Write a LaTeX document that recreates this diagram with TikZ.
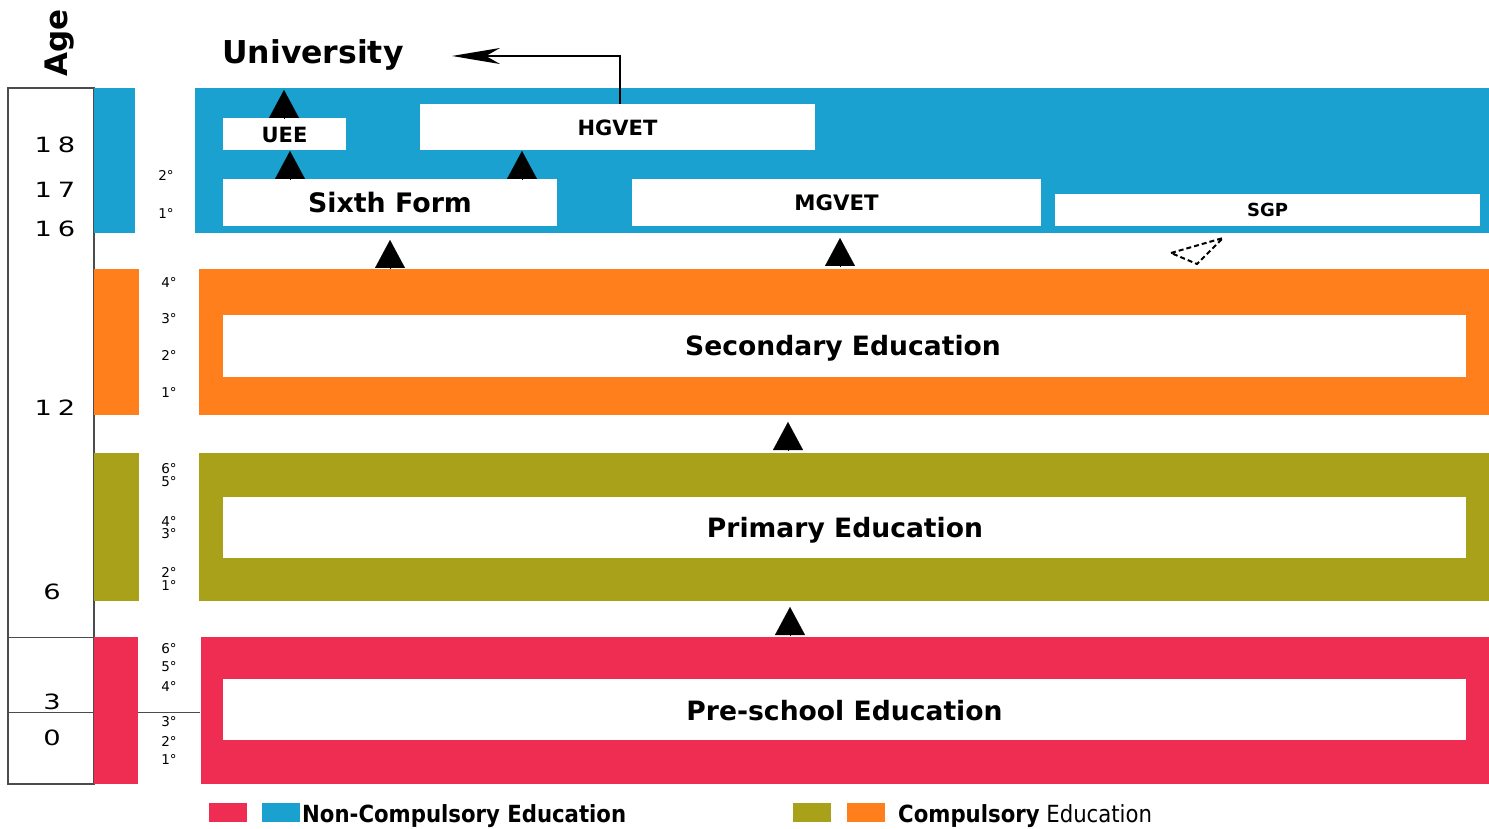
\documentclass[tikz,border=0pt]{standalone}
\usepackage{fontspec}
\setmainfont{DejaVu Sans}
\newfontfamily\condfont{DejaVu Sans Condensed}
\newfontfamily\agefont[LetterSpace=22]{DejaVu Sans}
\usetikzlibrary{arrows.meta,positioning}
\definecolor{cblue}{RGB}{27,161,208}
\definecolor{corange}{RGB}{255,127,29}
\definecolor{colive}{RGB}{169,161,26}
\definecolor{cred}{RGB}{239,45,83}
\newcommand{\agetxt}[1]{\scalebox{1.3}[1]{\agefont\fontsize{21}{21}\selectfont #1}}
\begin{document}
\begin{tikzpicture}[x=1pt,y=-1pt,
  wbox/.style={fill=white,inner sep=0pt,font=\bfseries},
  tri/.style={-{Triangle[length=28pt,width=30pt]},line width=0.1pt},
  grade/.style={font=\fontsize{13.5}{13.5}\selectfont,inner sep=0pt},
  agenum/.style={inner sep=0pt},
  leg/.style={minimum width=38pt,minimum height=19pt,inner sep=0pt}]
\useasboundingbox (0,0) rectangle (1489,829);
% age column
\draw[gray!60!black,line width=1.2pt] (8,88) rectangle (94,784);
\draw[gray!60!black,line width=1pt] (8,637) -- (94,637);
\draw[gray!60!black,line width=1pt] (8,712) -- (200,712);
\node[rotate=90,font=\bfseries\fontsize{31}{31}\selectfont,inner sep=0pt] (age) at (60,43) {Age};
\node[agenum] (a18) at (55,145) {\agetxt{18}};
\node[agenum] (a17) at (55,190) {\agetxt{17}};
\node[agenum] (a16) at (55,229) {\agetxt{16}};
\node[agenum] (a12) at (55,408) {\agetxt{12}};
\node[agenum] (a6) at (52,592) {\agetxt{6}};
\node[agenum] (a3) at (52,702) {\agetxt{3}};
\node[agenum] (a0) at (52,738) {\agetxt{0}};
% side strips
\fill[cblue] (94,88) rectangle (135,233);
\fill[corange] (94,269) rectangle (139,415);
\fill[colive] (94,453) rectangle (139,601);
\fill[cred] (94,637) rectangle (138,784);
% grades
\node[grade] (g1) at (166,175) {2°};
\node[grade] (g2) at (166,213) {1°};
\node[grade] (g3) at (169,282) {4°};
\node[grade] (g4) at (169,319) {3°};
\node[grade] (g5) at (169,355) {2°};
\node[grade] (g6) at (169,392) {1°};
\node[grade] (g7) at (169,469) {6°};
\node[grade] (g8) at (169,482) {5°};
\node[grade] (g9) at (169,521) {4°};
\node[grade] (g10) at (169,534) {3°};
\node[grade] (g11) at (169,572) {2°};
\node[grade] (g12) at (169,585) {1°};
\node[grade] (g13) at (169,649) {6°};
\node[grade] (g14) at (169,667) {5°};
\node[grade] (g15) at (169,686) {4°};
\node[grade] (g16) at (169,722) {3°};
\node[grade] (g17) at (169,741) {2°};
\node[grade] (g18) at (169,759) {1°};
% bands
\fill[cblue] (195,88) rectangle (1489,233);
\fill[corange] (199,269) rectangle (1489,415);
\fill[colive] (199,453) rectangle (1489,601);
\fill[cred] (201,637) rectangle (1489,784);
% white boxes
\node[wbox,minimum width=1243pt,minimum height=62pt] (sec) at (844.5,346) {};
\node[font=\bfseries\fontsize{26.6}{26.6}\selectfont,inner sep=0pt] (sect) at (843,348) {Secondary Education};
\node[wbox,minimum width=1243pt,minimum height=61pt] (pri) at (844.5,527.5) {};
\node[font=\bfseries\fontsize{26.6}{26.6}\selectfont,inner sep=0pt] (prit) at (845,530) {Primary Education};
\node[wbox,minimum width=1243pt,minimum height=61pt] (pre) at (844.5,709.5) {};
\node[font=\bfseries\fontsize{26.6}{26.6}\selectfont,inner sep=0pt] (pret) at (844.5,711) {Pre-school Education};
\node[wbox,minimum width=334pt,minimum height=47pt,font=\bfseries\fontsize{26.8}{26.8}\selectfont] (six) at (390,203) {Sixth Form};
\node[wbox,minimum width=409pt,minimum height=47pt,font=\bfseries\fontsize{21.3}{21.3}\selectfont] (mg) at (836.5,203) {MGVET};
\node[wbox,minimum width=425pt,minimum height=32pt,font=\bfseries\fontsize{18}{18}\selectfont] (sgp) at (1267.5,210) {SGP};
\node[wbox,minimum width=123pt,minimum height=32pt,font=\bfseries\fontsize{21}{21}\selectfont] (uee) at (284.5,134.5) {UEE};
\node[wbox,minimum width=395pt,minimum height=46pt,font=\bfseries\fontsize{21}{21}\selectfont] (hg) at (617.5,127.5) {HGVET};
\node[font=\bfseries\fontsize{31.5}{31.5}\selectfont,inner sep=0pt,anchor=west] (uni) at (222,55) {University};
% arrows
\coordinate (ueetop) at (284,90);
\draw[tri] (uee.north -| ueetop) -- (ueetop);
\draw[tri] (six.north -| 290,0) -- (290,151);
\draw[tri] (six.north -| 522,0) -- (522,151);
\draw[tri] (390,268) -- (390,240);
\draw[tri] (840,266) -- (840,238);
\draw[tri] (788,450) -- (788,422);
\draw[tri] (790,635) -- (790,607);
\coordinate (uniend) at (452,56);
\draw[line width=1.6pt,-{Stealth[length=48pt,width=16pt,inset=14pt]}] (hg.north -| 620,0) |- (uniend);
\draw[dash pattern=on 5pt off 3pt,line width=2pt] (1171,253) -- (1223,238) -- (1197,264) -- cycle;
% legend
\node[leg,fill=cred] (l1) at (228,812.5) {};
\node[leg,fill=cblue] (l2) at (280.5,812.5) {};
\node[font=\condfont\bfseries\fontsize{23.6}{23.6}\selectfont,inner sep=0pt,anchor=west] (t1) at (302,816) {Non-Compulsory Education};
\node[leg,fill=colive] (l3) at (812,812.5) {};
\node[leg,fill=corange] (l4) at (865.5,812.5) {};
\node[font=\condfont\fontsize{23.6}{23.6}\selectfont,inner sep=0pt,anchor=west] (t2) at (898,816) {\textbf{Compulsory} Education};
\end{tikzpicture}
\end{document}
